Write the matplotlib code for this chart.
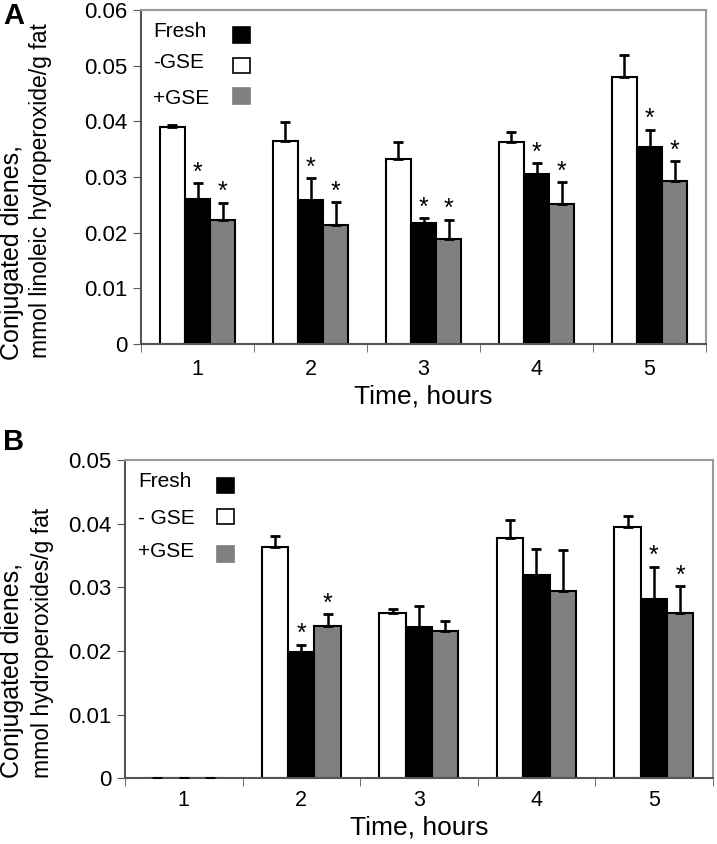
import matplotlib
matplotlib.use("Agg")
import matplotlib.pyplot as plt
import numpy as np
from matplotlib.patches import Rectangle

plt.rcParams['font.family'] = ['Liberation Sans', 'DejaVu Sans']

hours = ['1', '2', '3', '4', '5']
series = ['-GSE', 'Fresh', '+GSE']
colors = ['white', 'black', '#808080']

# panel A: mean and upper error
a_minus = [0.0390, 0.0365, 0.0332, 0.0362, 0.0480]
a_minus_err = [0.0004, 0.0034, 0.0031, 0.0018, 0.0040]
a_fresh = [0.0261, 0.0259, 0.0218, 0.0305, 0.0353]
a_fresh_err = [0.0028, 0.0039, 0.0008, 0.0020, 0.0032]
a_plus = [0.0222, 0.0213, 0.0189, 0.0252, 0.0292]
a_plus_err = [0.0032, 0.0042, 0.0034, 0.0039, 0.0036]
a_star_fresh = [1, 1, 1, 1, 1]
a_star_plus = [1, 1, 1, 1, 1]

# panel B
b_minus = [0, 0.0364, 0.0260, 0.0378, 0.0395]
b_minus_err = [np.nan, 0.0017, 0.0006, 0.0028, 0.0017]
b_fresh = [0, 0.0199, 0.0237, 0.0319, 0.0282]
b_fresh_err = [np.nan, 0.0011, 0.0034, 0.0041, 0.0050]
b_plus = [0, 0.0240, 0.0231, 0.0295, 0.0260]
b_plus_err = [np.nan, 0.0018, 0.0016, 0.0063, 0.0042]
b_star_fresh = [0, 1, 0, 0, 1]
b_star_plus = [0, 1, 0, 0, 1]

fig = plt.figure(figsize=(7.17, 8.44), dpi=100)
W, H = 717, 844
axA = fig.add_axes([141 / W, 1 - 344 / H, 565 / W, 334 / H])
axB = fig.add_axes([125 / W, 1 - 778.3 / H, 587.7 / W, 318.3 / H])

width = 0.224
x = np.arange(len(hours))


def draw(ax, vals, errs, stars_f, stars_p, ymax, legend_labels, leg, tpad, lpad):
    for i, (v, e) in enumerate(zip(vals, errs)):
        xs = x + (i - 1) * width
        ax.bar(xs, v, width, color=colors[i], edgecolor='black', linewidth=1.5, zorder=2)
        ax.errorbar(xs, v, yerr=[np.zeros(len(e)), e], fmt='none', ecolor='black',
                    elinewidth=1.8, capsize=3.5, capthick=2, zorder=3)
    for i, st in ((1, stars_f), (2, stars_p)):
        for j in range(len(hours)):
            if st[j]:
                top = vals[i][j] + errs[i][j]
                ax.annotate('*', (x[j] + (i - 1) * width, top), xytext=(0, -1),
                            textcoords='offset points', ha='center', va='bottom', fontsize=18)
    ax.set_xlim(-0.5, 4.5)
    ax.set_ylim(0, ymax)
    ax.set_yticks(np.arange(0, ymax + 1e-9, 0.01))
    ax.set_yticklabels(['0'] + ['%.2f' % t for t in np.arange(0.01, ymax + 1e-9, 0.01)])
    ax.set_xticks(x)
    ax.set_xticklabels(hours)
    ax.set_xticks(np.arange(-0.5, 5, 1), minor=True)
    ax.tick_params(axis='x', which='major', length=0, labelsize=15.5, pad=tpad)
    ax.tick_params(axis='x', which='minor', length=6, direction='out', color='#555555')
    ax.tick_params(axis='y', length=6, direction='out', labelsize=16, color='#555555', pad=4)
    for s in ('left', 'bottom'):
        ax.spines[s].set_color('#555555')
        ax.spines[s].set_linewidth(1.5)
    for s in ('top', 'right'):
        ax.spines[s].set_color('#999999')
        ax.spines[s].set_linewidth(1.5)
    ax.set_xlabel('Time, hours', fontsize=19, labelpad=lpad)
    # legend drawn by hand: text then swatch
    tx, bx, bw, rows = leg
    for (lab, col, (y0, y1, ty)) in zip(legend_labels, ['black', 'white', '#808080'], rows):
        ax.text(tx, ty, lab, transform=ax.transAxes, fontsize=15, va='center', ha='left')
        ec = 'black' if col != '#808080' else '#808080'
        ax.add_patch(Rectangle((bx, y0), bw, y1 - y0, transform=ax.transAxes,
                               facecolor=col, edgecolor=ec, linewidth=1.2))


draw(axA, [a_minus, a_fresh, a_plus], [a_minus_err, a_fresh_err, a_plus_err],
     a_star_fresh, a_star_plus, 0.06,
     ['Fresh', '-GSE', '+GSE'],
     (0.021, 0.163, 0.030, [(0.902, 0.950, 0.937), (0.811, 0.856, 0.843), (0.719, 0.766, 0.734)]),
     11, 3)
draw(axB, [b_minus, b_fresh, b_plus], [b_minus_err, b_fresh_err, b_plus_err],
     b_star_fresh, b_star_plus, 0.05,
     ['Fresh', '- GSE', '+GSE'],
     (0.022, 0.157, 0.029, [(0.896, 0.944, 0.932), (0.799, 0.847, 0.815), (0.680, 0.730, 0.711)]),
     8.5, 3.5)

# y labels: two lines, bottom-aligned like the original
fig.text(0 / W, 1 - 360 / H, 'Conjugated dienes,', rotation=90, fontsize=18, ha='left', va='bottom')
fig.text(29 / W, 1 - 358 / H, 'mmol linoleic hydroperoxide/g fat', rotation=90, fontsize=16.5,
         ha='left', va='bottom')
fig.text(0 / W, 1 - 778 / H, 'Conjugated dienes,', rotation=90, fontsize=18, ha='left', va='bottom')
fig.text(31 / W, 1 - 778 / H, 'mmol hydroperoxides/g fat', rotation=90, fontsize=16.5,
         ha='left', va='bottom')

fig.text(3 / W, 1 - 16 / H, 'A', fontsize=21, fontweight='bold', va='center', ha='left')
fig.text(3 / W, 1 - 442 / H, 'B', fontsize=21, fontweight='bold', va='center', ha='left')

fig.savefig('out.png', dpi=100)
